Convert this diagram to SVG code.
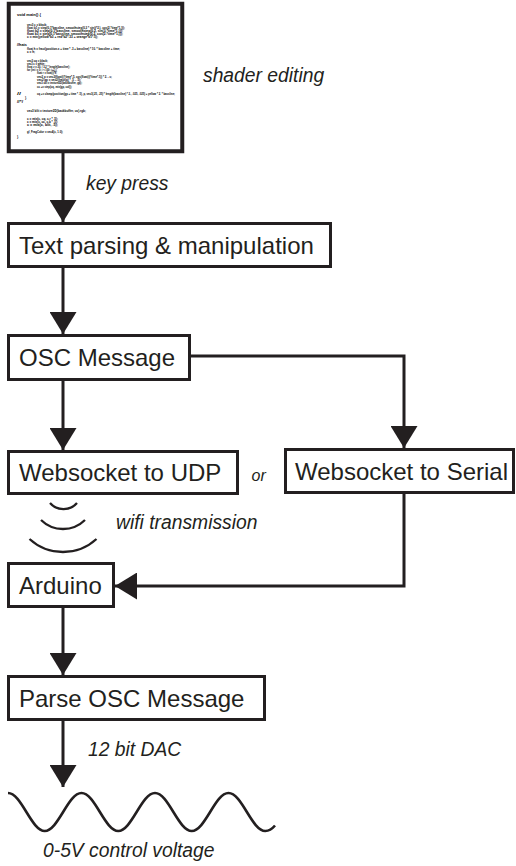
<svg xmlns="http://www.w3.org/2000/svg" width="516" height="866" viewBox="0 0 516 866">
<style>
.box{fill:#fff;stroke:#231f20;stroke-width:3}
.lbl{font-family:"Liberation Sans",Arial,sans-serif;font-size:24px;fill:#231f20}
.it{font-family:"Liberation Sans",Arial,sans-serif;font-size:19.3px;font-style:italic;fill:#231f20}
.code{font-family:"Liberation Sans",Arial,sans-serif;font-size:3.3px;font-weight:bold;fill:#000}
.con{fill:none;stroke:#231f20;stroke-width:3}
.thin{fill:none;stroke:#231f20;stroke-width:2.3}
</style>
<defs>
<marker id="ah" markerUnits="userSpaceOnUse" markerWidth="23" markerHeight="27" refX="22" refY="13.5" orient="auto" viewBox="0 0 23 27">
<path d="M0,0 L22,13.5 L0,27 Z" fill="#231f20"/>
</marker>
</defs>
<rect width="516" height="866" fill="#fff"/>

<g id="code-box">
<rect x="8.75" y="3.75" width="173.5" height="147.5" fill="#fff" stroke="#231f20" stroke-width="4"/>
<text class="code" x="17" y="16" textLength="24" lengthAdjust="spacingAndGlyphs">void main() {</text>
<text class="code" x="27" y="26" textLength="20" lengthAdjust="spacingAndGlyphs">vec3 c = black;</text>
<text class="code" x="27" y="29.3" textLength="98" lengthAdjust="spacingAndGlyphs">float b1 = step(0.1*bassline, smoothstep(0.3 * sin(t*2.), cos(2.*time*1.)));</text>
<text class="code" x="27" y="32.3" textLength="96" lengthAdjust="spacingAndGlyphs">float b2 = step(0.1*bassline, smoothstep(0.2, sin(3.*time*1.)));</text>
<text class="code" x="27" y="35.3" textLength="96" lengthAdjust="spacingAndGlyphs">float b3 = step(0.1*bassline, smoothstep(0.2, cos(2.*time*1.)));</text>
<text class="code" x="27" y="38.3" textLength="71" lengthAdjust="spacingAndGlyphs">c = mix(yellow*b3 + red*b2*.33 + orange*b1*.5);</text>
<text class="code" x="17" y="46" textLength="10" lengthAdjust="spacingAndGlyphs">//hats</text>
<text class="code" x="27" y="50" textLength="93" lengthAdjust="spacingAndGlyphs">float h = fract(position.x + time * .3 + bassline) * 10. * bassline + time;</text>
<text class="code" x="27" y="53.3" textLength="8" lengthAdjust="spacingAndGlyphs">c = h;</text>
<text class="code" x="27" y="61.5" textLength="21" lengthAdjust="spacingAndGlyphs">vec3 cq = black;</text>
<text class="code" x="27" y="64.5" textLength="18" lengthAdjust="spacingAndGlyphs">vec3 c = white;</text>
<text class="code" x="27" y="67.7" textLength="43" lengthAdjust="spacingAndGlyphs">float z = 20. / 3.2 * length(bassline);</text>
<text class="code" x="27" y="71" textLength="30" lengthAdjust="spacingAndGlyphs">for (int i = 0; i &lt; 100; i++) {</text>
<text class="code" x="37" y="74.3" textLength="20" lengthAdjust="spacingAndGlyphs">float r = float(i)*8;</text>
<text class="code" x="37" y="77.7" textLength="75" lengthAdjust="spacingAndGlyphs">vec2 p = vec2(float(i)*time*.5, cos(float(i)*time*.1)) * 2. - c;</text>
<text class="code" x="37" y="81" textLength="44" lengthAdjust="spacingAndGlyphs">vec2 gp = vec2(fract(p) * .5 - .5);</text>
<text class="code" x="37" y="84.3" textLength="45" lengthAdjust="spacingAndGlyphs">vec3 col = texture2D(backbuffer, gp);</text>
<text class="code" x="37" y="87.7" textLength="35" lengthAdjust="spacingAndGlyphs">cc += step(cq, mix(gp, col));</text>
<text class="code" x="17" y="95" textLength="4" lengthAdjust="spacingAndGlyphs">//</text>
<text class="code" x="37" y="95" textLength="138" lengthAdjust="spacingAndGlyphs">cq += clamp(position(gp + time * .5), p, vec3(.25, .25) * length(bassline) * 2., .025, .025) + yellow * 2. * bassline;</text>
<text class="code" x="25" y="99">}</text>
<text class="code" x="17" y="103" textLength="6" lengthAdjust="spacingAndGlyphs">//*/</text>
<text class="code" x="27" y="112" textLength="59" lengthAdjust="spacingAndGlyphs">vec3 blit = texture2D(backbuffer, uv).rgb;</text>
<text class="code" x="27" y="119.5" textLength="31" lengthAdjust="spacingAndGlyphs">c = mix(c, cq, c.r * .5);</text>
<text class="code" x="27" y="122.5" textLength="31" lengthAdjust="spacingAndGlyphs">c = mix(c, cc, c.b * .5);</text>
<text class="code" x="27" y="125.5" textLength="31" lengthAdjust="spacingAndGlyphs">c = mix(c, blit, .5);</text>
<text class="code" x="27" y="133" textLength="36" lengthAdjust="spacingAndGlyphs">gl_FragColor = vec4(c, 1.0);</text>
<text class="code" x="17" y="138">}</text>
</g>

<g id="connectors">
<path class="con" d="M63,153 V222" marker-end="url(#ah)"/>
<path class="con" d="M63,268 V334" marker-end="url(#ah)"/>
<path class="con" d="M63,381 V450" marker-end="url(#ah)"/>
<path class="con" d="M191,356 H404 V448" marker-end="url(#ah)"/>
<path class="con" d="M404,494 V586 H115" marker-end="url(#ah)"/>
<path class="con" d="M63,608 V675" marker-end="url(#ah)"/>
<path class="con" d="M63,721 V787" marker-end="url(#ah)"/>
</g>

<g id="labels">
<text class="it" x="203" y="82">shader editing</text>
<text class="it" x="86" y="190">key press</text>
<text class="it" x="251.5" y="481" style="font-size:16px">or</text>
<text class="it" x="116" y="529">wifi transmission</text>
<text class="it" x="88" y="756">12 bit DAC</text>
<text class="it" x="43" y="857">0-5V control voltage</text>
</g>

<g id="text-parsing">
<rect class="box" x="8.5" y="223.5" width="322" height="43"/>
<text class="lbl" x="19" y="253.5">Text parsing &amp; manipulation</text>
</g>

<g id="osc-message">
<rect class="box" x="8.5" y="335.5" width="181" height="44"/>
<text class="lbl" x="19" y="366">OSC Message</text>
</g>

<g id="websocket-udp">
<rect class="box" x="8.5" y="451.5" width="229" height="42"/>
<text class="lbl" x="19" y="481">Websocket to UDP</text>
</g>

<g id="websocket-serial">
<rect class="box" x="285.5" y="449.5" width="228" height="43"/>
<text class="lbl" x="295" y="479.5">Websocket to Serial</text>
</g>

<g id="wifi">
<path class="thin" d="M50,503 A18,18 0 0 0 77,503"/>
<path class="thin" d="M41,520 A31.4,31.4 0 0 0 85,520"/>
<path class="thin" d="M29.5,539 A49.7,49.7 0 0 0 96.5,539"/>
</g>

<g id="arduino">
<rect class="box" x="8.5" y="563.5" width="105" height="43"/>
<text class="lbl" x="19" y="593.5">Arduino</text>
</g>

<g id="parse-osc">
<rect class="box" x="8.5" y="676.5" width="256" height="43"/>
<text class="lbl" x="19" y="706.5">Parse OSC Message</text>
</g>

<g id="wave">
<path class="con" style="stroke-width:2.6" d="M8,793 C21.4,793 31.35,831 44.75,831 C58.15,831 68.1,793 81.5,793 C94.9,793 104.85,831 118.25,831 C131.65,831 141.6,793 155,793 C168.4,793 178.35,831 191.75,831 C205.15,831 215.1,793 228.5,793 C241.9,793 251.85,831 265.25,831 C269.5,831 272.5,828.5 275,825.5"/>
</g>
</svg>
